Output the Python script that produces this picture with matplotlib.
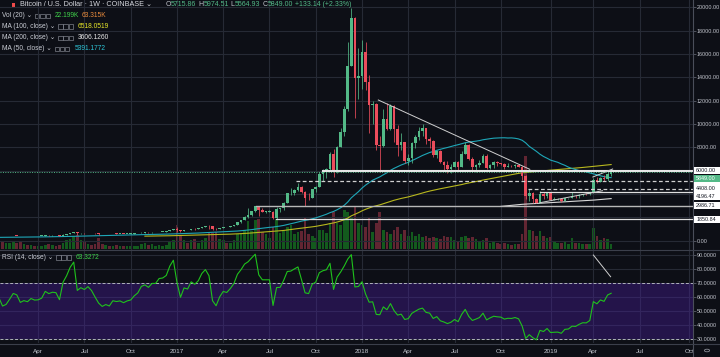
import numpy as np
import matplotlib
matplotlib.use("Agg")
import matplotlib.pyplot as plt
import matplotlib.dates as mdates
from matplotlib.patches import Rectangle, Circle
from matplotlib.lines import Line2D
from datetime import date, timedelta

# ---------------- data ----------------
# weekly closes before the visible window (used only for the moving averages / RSI)
pre_start = "2014-12-08"
pre_close = [347, 320, 316, 265,
             268, 210, 253, 226, 222, 235, 235, 260, 275, 285, 268, 243, 260,
             236, 223, 219, 240, 240, 236, 240, 230, 225, 233, 245, 250, 270,
             310, 273, 290, 280, 265, 258, 228, 229, 240, 230, 231, 233, 238,
             247, 262, 285, 325, 373, 320, 323, 370, 390, 435, 440, 420, 430,
             448, 382]

first_week = "2016-01-18"
close = [
    # 2016
    403, 370, 378, 405, 438, 433, 405, 414, 410, 425, 420, 421, 428, 458, 452, 458, 457, 440, 525, 575,
    670, 760, 630, 660, 650, 680, 660, 625, 590, 570, 583, 575, 610, 606, 610, 602, 612, 617, 640, 657,
    700, 711, 703, 730, 730, 766, 770, 790, 892, 998,
    # 2017
    905, 820, 925, 918, 1015, 1000, 1050, 1180, 1270, 1230, 1020, 965, 1095, 1190, 1180, 1250, 1350, 1600,
    1770, 2050, 2200, 2520, 2960, 2600, 2500, 2500, 2500, 1915, 2750, 2760, 3230, 4050, 4100, 4350, 4600,
    4200, 3700, 3670, 4400, 4600, 5700, 6000, 6150, 7400, 5950, 8050, 9300, 11300, 15000, 19100, 13900, 14100,
    # 2018
    16200, 13600, 11600, 11700, 8200, 8100, 10400, 9600, 11500, 9550, 8200, 8450, 6850, 7050, 8350, 8900,
    9400, 9650, 8700, 8550, 7350, 7700, 6770, 6500, 6150, 6350, 6750, 6350, 7400, 8200, 7030, 6300, 6490,
    6700, 7300, 6240, 6500, 6710, 6630, 6590, 6340, 6420, 6400, 6480, 6350, 5580, 3800, 4100, 3600, 3250,
    3980, 3820, 4050,
    # 2019
    3520, 3540, 3550, 3410, 3650, 3670, 3830, 3810, 3920, 4000, 3990, 4100, 5190, 5070, 5340, 5265, 5715.86, 5849]

high = [
    412, 405, 392, 408, 445, 440, 440, 418, 420, 428, 428, 425, 432, 462, 468, 465, 462, 460, 535, 585,
    690, 780, 770, 700, 700, 690, 680, 660, 625, 600, 590, 585, 612, 630, 612, 612, 615, 620, 645, 660,
    715, 745, 720, 755, 745, 768, 775, 795, 935, 1000,
    1150, 905, 930, 930, 1030, 1065, 1060, 1200, 1290, 1330, 1260, 1070, 1100, 1205, 1210, 1260, 1355, 1640,
    1800, 2100, 2790, 2560, 3000, 2990, 2760, 2560, 2650, 2550, 2900, 2800, 3290, 4130, 4500, 4450, 4980,
    4700, 4250, 4120, 4420, 4650, 5900, 6160, 6200, 7600, 7900, 8100, 9700, 11500, 17000, 19900, 19200, 16500,
    17200, 17000, 14200, 12000, 11800, 9000, 11300, 11800, 11700, 11600, 9900, 9200, 8500, 7400, 8450, 9050,
    9750, 9990, 9650, 8900, 8600, 7800, 7750, 6850, 6800, 6600, 6830, 6800, 7700, 8500, 8280, 7150, 6600,
    6900, 7400, 7420, 6600, 6800, 6800, 6670, 6650, 6620, 6500, 6550, 6600, 6400, 5620, 4400, 4200, 3650,
    4250, 4200, 4100,
    4120, 3730, 3620, 3580, 3700, 3680, 4200, 3880, 3960, 4040, 4100, 4140, 5350, 5470, 5450, 5650, 5860, 5974.51]

low = [
    375, 365, 365, 373, 400, 415, 398, 402, 405, 408, 412, 415, 418, 428, 445, 440, 448, 435, 440, 520,
    570, 670, 520, 610, 615, 640, 645, 610, 470, 560, 565, 565, 570, 600, 598, 592, 600, 605, 615, 625,
    655, 680, 700, 700, 720, 728, 752, 770, 790, 890,
    750, 750, 820, 880, 910, 950, 990, 1050, 1180, 1000, 935, 890, 960, 1090, 1150, 1170, 1250, 1340,
    1550, 1750, 1960, 2150, 2500, 2100, 2450, 2350, 2480, 1830, 1900, 2420, 2650, 3200, 3950, 3950, 4300,
    4080, 2970, 3500, 3650, 4150, 4580, 5100, 5400, 6100, 5500, 5800, 8000, 9000, 11100, 15000, 10500, 12100,
    13000, 12900, 9200, 10000, 7800, 5900, 8000, 9500, 9500, 8500, 7300, 7800, 6650, 6500, 6650, 7950,
    8600, 9000, 8300, 7950, 7200, 7050, 6650, 6100, 5800, 5800, 6300, 6050, 6300, 7400, 6930, 5880, 5880,
    6300, 6650, 6110, 6160, 6220, 6400, 6520, 6150, 6300, 6350, 6260, 6300, 5200, 3550, 3400, 3250, 3200,
    3200, 3550, 3620,
    3480, 3450, 3450, 3350, 3400, 3560, 3660, 3650, 3700, 3850, 3940, 3950, 4080, 4950, 5000, 5150, 5150, 5564.93]

volume_k = [
    45, 35, 30, 28, 35, 30, 32, 22, 18, 17, 16, 15, 14, 20, 22, 20, 16, 18, 30, 40,
    48, 60, 65, 40, 35, 25, 20, 22, 50, 25, 18, 15, 16, 18, 13, 14, 13, 12, 15, 16,
    24, 28, 20, 22, 15, 18, 16, 17, 35, 40,
    110, 60, 40, 30, 40, 45, 30, 40, 50, 80, 75, 80, 45, 40, 30, 30, 40, 70, 75, 90,
    130, 85, 135, 140, 80, 70, 50, 100, 140, 75, 85, 100, 110, 70, 80, 85, 150, 70, 60, 50,
    90, 90, 75, 120, 170, 120, 110, 180, 170, 150, 200, 120,
    110, 100, 150, 80, 120, 170, 90, 80, 70, 90, 100, 70, 90, 60, 80, 60, 70, 55, 60, 50,
    55, 50, 45, 60, 55, 55, 40, 35, 55, 60, 50, 55, 45, 35, 40, 50, 30, 32, 28, 22,
    28, 25, 20, 22, 22, 70, 430, 90, 85, 60, 85, 60, 50,
    55, 35, 28, 30, 35, 25, 50, 30, 28, 25, 22, 25, 95, 60, 40, 50, 45, 22.199]

# horizontal drawings: (price, start date, style, width, colour)
hlines = [(6000.00, "2017-10-16", "-", 1.5, "#e6e6e6"),
          (5080.00, "2017-08-24", "--", 0.9, "#d0d0d0"),
          (4408.00, "2018-11-24", "--", 0.9, "#d0d0d0"),
          (4196.47, "2018-12-17", "-", 0.9, "#e0e0e0"),
          (2986.71, "2017-06-06", "-", 1.0, "#b8b8b8"),
          (1850.84, "2017-07-15", "-", 0.9, "#e0e0e0")]
# trend lines: (date1, price1, date2, price2)
tlines = [("2018-02-02", 12057, "2018-11-27", 6118),
          ("2018-12-17", 3256, "2019-04-19", 4284),
          ("2019-03-31", 5458, "2019-05-09", 6144)]
rsi_tline = ("2019-04-01", 90.2, "2019-05-05", 74.7)

# price-axis badges: (value, text, face, text colour, display offset px)
badges = [(5080.00, "", "#ffffff", "#131722", -1.5),
          (6000.00, "6000.00", "#ffffff", "#131722", 0.0),
          (5849.00, "5849.00", "#53b987", "#ffffff", -6.0),
          (4408.00, "4408.00", "#ffffff", "#131722", 0.5),
          (4196.47, "4196.47", "#ffffff", "#131722", -4.3),
          (2986.71, "2986.71", "#ffffff", "#131722", 0.0),
          (1850.84, "1850.84", "#ffffff", "#131722", 0.0)]

tick_dates = ["2016-04-04", "2016-07-04", "2016-10-03", "2017-01-02", "2017-04-03", "2017-07-03",
              "2017-10-02", "2018-01-01", "2018-04-02", "2018-07-02", "2018-10-01", "2019-01-07",
              "2019-04-01", "2019-07-01", "2019-10-07"]
tick_labels = ["Apr", "Jul", "Oct", "2017", "Apr", "Jul", "Oct", "2018", "Apr", "Jul", "Oct", "2019",
               "Apr", "Jul", "Oct"]
price_ticks = list(range(0, 20001, 2000))
hidden_price_labels = [2000, 4000, 6000]   # covered by the badges in the original
rsi_ticks = [30, 40, 50, 60, 70, 80, 90]

# ---------------- derived ----------------
def d(s):
    return mdates.date2num(date.fromisoformat(s))

n = len(close)
assert len(high) == n and len(low) == n and len(volume_k) == n, (len(high), len(low), len(volume_k))
t0 = date.fromisoformat(first_week)
xs = np.array([mdates.date2num(t0 + timedelta(weeks=i)) for i in range(n)])
opens = np.array([pre_close[-1]] + close[:-1], dtype=float)
cl = np.array(close, dtype=float)
hi = np.array(high, dtype=float)
lo = np.array(low, dtype=float)
vol = np.array(volume_k, dtype=float)
allc = np.array(pre_close + close, dtype=float)
npre = len(pre_close)

def sma(a, k):
    out = np.full(len(a), np.nan)
    for i in range(k - 1, len(a)):
        out[i] = a[i - k + 1:i + 1].mean()
    return out

def rsi(a, k=14):
    dlt = np.diff(a)
    g = np.clip(dlt, 0, None)
    l = np.clip(-dlt, 0, None)
    out = np.full(len(a), np.nan)
    ag = g[:k].mean(); al = l[:k].mean()
    out[k] = 100 - 100 / (1 + ag / al) if al > 0 else 100
    for i in range(k, len(dlt)):
        ag = (ag * (k - 1) + g[i]) / k
        al = (al * (k - 1) + l[i]) / k
        out[i + 1] = 100 - 100 / (1 + ag / al) if al > 0 else 100
    return out

ma50 = sma(allc, 50)[npre:]
ma100 = sma(allc, 100)[npre:]
ma200 = sma(allc, 200)[npre:]
rsi14 = rsi(allc)[npre:]

# ---------------- figure ----------------
W, H = 720, 357
BG = "#0d0f16"
GRID = "#262a35"
TXT = "#c3c6ce"
FAM = ["Liberation Sans", "DejaVu Sans"]
UP, DN = "#53b987", "#eb4d5c"

plt.rcParams["font.family"] = FAM
fig = plt.figure(figsize=(W / 100, H / 100), dpi=100, facecolor=BG)

def fx(px):
    return px / W

def fy(py):
    return 1 - py / H

PANE_R = 693
ax = fig.add_axes([0, fy(249), PANE_R / W, 249 / H])
axr = fig.add_axes([0, fy(343), PANE_R / W, 94 / H], sharex=ax)
ax.set_facecolor(BG)
axr.set_facecolor(BG)

xl = (d("2016-01-20"), d("2019-10-14"))
ax.set_xlim(*xl)
ax.set_ylim(-711, 20626)
axr.set_ylim(27.4, 94.5)

tx = [d(s) for s in tick_dates]
for a in (ax, axr):
    for s in a.spines.values():
        s.set_visible(False)
    for x in tx:
        a.axvline(x, color=GRID, lw=0.8, zorder=0)
for p in price_ticks:
    ax.axhline(p, color=GRID, lw=0.8, zorder=0)

# volume on its own axis behind the candles
axv = ax.twinx()
axv.set_ylim(0, 1150)
axv.set_yticks([])
for s in axv.spines.values():
    s.set_visible(False)
vcol = ["#135a1d" if c >= o else "#622532" for o, c in zip(opens, cl)]
axv.bar(xs, vol, width=5.2, color=vcol, zorder=1, linewidth=0)
ax.set_zorder(axv.get_zorder() + 1)
ax.patch.set_visible(False)

# candles
ccol = [UP if c >= o else DN for o, c in zip(opens, cl)]
ax.vlines(xs, lo, hi, colors=ccol, lw=0.55, zorder=3)
bot = np.minimum(opens, cl)
hgt = np.maximum(np.abs(cl - opens), 25)
ax.bar(xs, hgt, bottom=bot, width=5.2, color=ccol, linewidth=0, zorder=4)

# moving averages
ax.plot(xs, ma100, color="#b8b81e", lw=0.8, zorder=2)
ax.plot(xs, ma200, color="#d8d8d8", lw=0.8, zorder=2)
ax.plot(xs, ma50, color="#1ea7b8", lw=0.8, zorder=2)

# drawings
for price, start, ls, lw, colr in hlines:
    kw = dict(dashes=(3, 2)) if ls == "--" else {}
    ax.plot([d(start), xl[1]], [price, price], color=colr, lw=lw, zorder=5, **kw)
for a1, p1, a2, p2 in tlines:
    ax.plot([d(a1), d(a2)], [p1, p2], color="#d0d0d0", lw=0.7, zorder=5)
ax.axhline(cl[-1], color=UP, lw=0.7, dashes=(1, 1.5), zorder=5)

# price axis
ax.yaxis.tick_right()
ax.set_yticks(price_ticks)
ax.set_yticklabels(["" if p in hidden_price_labels else f"{p:.2f}" for p in price_ticks])
ax.tick_params(axis="y", length=2, width=0.6, color="#5d606b", labelsize=3.9,
               labelcolor=TXT, pad=0.8)
ax.tick_params(axis="x", length=0, labelbottom=False)

# RSI pane
axr.axhspan(30, 70, color="#4a1ea0", alpha=0.38, zorder=1, lw=0)
for r in rsi_ticks:
    axr.axhline(r, color=GRID, lw=0.8, zorder=0)
axr.axhline(70, color="#b0b3bb", lw=0.7, dashes=(3, 2), zorder=2)
axr.axhline(30, color="#b0b3bb", lw=0.7, dashes=(3, 2), zorder=2)
axr.plot(xs, rsi14, color="#1fc21c", lw=0.8, zorder=3)
axr.plot([d(rsi_tline[0]), d(rsi_tline[2])], [rsi_tline[1], rsi_tline[3]], color="#d0d0d0", lw=0.7, zorder=4)
axr.yaxis.tick_right()
axr.set_yticks(rsi_ticks)
axr.set_yticklabels([f"{r:.4f}" for r in rsi_ticks])
axr.tick_params(axis="y", length=2, width=0.6, color="#5d606b", labelsize=3.9,
                labelcolor=TXT, pad=0.8)
axr.set_xticks(tx)
axr.set_xticklabels(tick_labels)
axr.tick_params(axis="x", length=0, labelsize=4.6, labelcolor=TXT, pad=4)

# separators
fig.add_artist(Line2D([fx(PANE_R), fx(PANE_R)], [0, 1], color="#4a4e5a", lw=0.8))
for yy in (249.5, 343.5):
    fig.add_artist(Line2D([0, 1], [fy(yy), fy(yy)], color="#3b3f4b", lw=0.8))

# badges on the price axis
for val, txt, fc, tc, off in badges:
    disp = ax.transData.transform((0, val))[1]
    py = H - disp - off
    fig.add_artist(Rectangle((fx(PANE_R + 0.5), fy(py + 3.6)), 26.5 / W, 7.2 / H,
                             facecolor=fc, edgecolor="none", transform=fig.transFigure, zorder=10))
    if txt:
        fig.text(fx(PANE_R + 3.2), fy(py), txt, color=tc, fontsize=3.9, va="center", ha="left", zorder=11)

# legend texts
renderer = fig.canvas.get_renderer()

def seq(x, y, parts, size=5.0):
    for s, colr, gap in parts:
        t = fig.text(fx(x), fy(y), s, color=colr, fontsize=size, va="center", ha="left")
        x += t.get_window_extent(renderer=renderer).width + gap
    return x

def icons(x, y):
    for k in range(3):
        fig.add_artist(Rectangle((fx(x + k * 5.2), fy(y + 2.2)), 4.3 / W, 4.4 / H, facecolor="none",
                                 edgecolor="#7d808a", lw=0.5, transform=fig.transFigure))
    return x + 3 * 5.2 + 2

fig.add_artist(Rectangle((fx(12), fy(7)), 3 / W, 4.5 / H, facecolor="#ef4b4b", edgecolor="none",
                         transform=fig.transFigure))
seq(20.5, 4.7, [("Bitcoin / U.S. Dollar · 1W · COINBASE ⌄", "#d6d8de", 0)], size=5.2)
G = "#53b987"
seq(165.5, 4.7, [("O", TXT, 0), ("5715.86", G, 2.0), ("H", TXT, 0), ("5974.51", G, 2.0),
                 ("L", TXT, 0), ("5564.93", G, 2.0), ("C", TXT, 0), ("5849.00", G, 2.0),
                 ("+133.14 (+2.33%)", G, 0)], size=5.0)

rows = [(15.7, "Vol (20) ⌄", [("22.199K", "#3fd14a", 3), ("63.315K", "#e98b3c", 0)]),
        (26.7, "MA (100, close) ⌄", [("6518.0519", "#e6e62a", 0)]),
        (37.7, "MA (200, close) ⌄", [("3606.1260", "#e8e8e8", 0)]),
        (48.7, "MA (50, close) ⌄", [("5391.1772", "#2ec4d6", 0)]),
        (257.3, "RSI (14, close) ⌄", [("63.3272", "#3fd14a", 0)])]
for y, label, vals in rows:
    x = seq(2.0, y, [(label, "#c9ccd4", 3.0)], size=4.8)
    x = icons(x, y)
    seq(x + 2, y, vals, size=4.8)

# settings icon bottom right
fig.add_artist(Circle((fx(707), fy(350.5)), 2.6 / W, facecolor="none", edgecolor="#8a8d96", lw=0.6,
                      transform=fig.transFigure))

fig.savefig("out.png", dpi=100, facecolor=BG)
